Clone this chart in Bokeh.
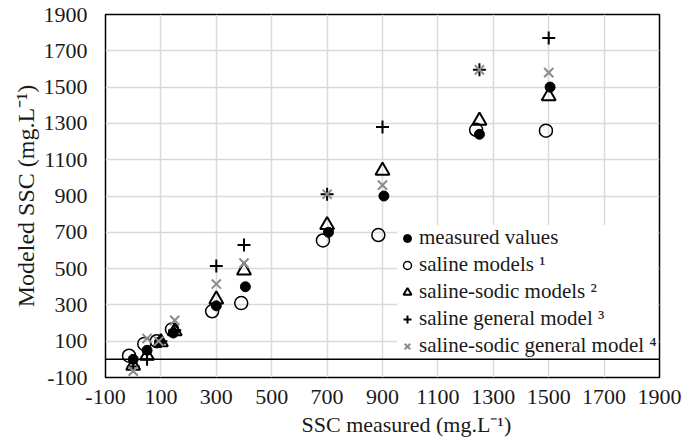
from bokeh.plotting import figure
from bokeh.models import FixedTicker, Span, Legend, LegendItem, Title, Range1d
from bokeh.embed import file_html
from bokeh.resources import INLINE

# ---- data ----
x_ticks = [-100, 100, 300, 500, 700, 900, 1100, 1300, 1500, 1700, 1900]
y_ticks = [-100, 100, 300, 500, 700, 900, 1100, 1300, 1500, 1700, 1900]

measured_x = [0, 50, 95, 145, 300, 405, 705, 905, 1250, 1505]
measured_y = [0, 50, 95, 145, 295, 400, 700, 900, 1240, 1500]

saline_x = [-15, 40, 85, 140, 285, 390, 685, 885, 1238, 1490]
saline_y = [20, 85, 100, 165, 265, 310, 655, 685, 1265, 1260]

sodic_x = [0, 50, 100, 150, 300, 400, 700, 900, 1250, 1500]
sodic_y = [-35, 20, 95, 155, 330, 490, 740, 1040, 1315, 1450]

gen_x = [0, 50, 100, 150, 300, 400, 700, 900, 1250, 1500]
gen_y = [-40, 0, 100, 160, 515, 630, 910, 1280, 1595, 1770]

sodic_gen_x = [0, 50, 92, 150, 300, 400, 700, 900, 1250, 1500]
sodic_gen_y = [-65, 115, 100, 215, 415, 530, 910, 960, 1595, 1580]

labels = ["measured values", "saline models \u00b9", "saline-sodic models \u00b2",
          "saline general model \u00b3", "saline-sodic general model \u2074"]

FONT = "Liberation Serif"
TXT = "#1a1a1a"

p = figure(width=684, height=445, output_backend="svg", toolbar_location=None,
           x_range=Range1d(-100, 1900), y_range=Range1d(-100, 1900),
           min_border_left=105, min_border_right=25, min_border_top=14, min_border_bottom=68)

p.outline_line_color = "black"
p.outline_line_width = 1.5

for ax in (p.xaxis[0], p.yaxis[0]):
    ax.axis_line_color = None
    ax.major_tick_line_color = None
    ax.minor_tick_line_color = None
    ax.major_tick_out = 0
    ax.major_tick_in = 0
    ax.major_label_text_font = FONT
    ax.major_label_text_font_size = "22px"
    ax.major_label_text_color = TXT
    ax.major_label_overrides = {-100: "-100"}

p.xaxis.ticker = FixedTicker(ticks=x_ticks)
p.yaxis.ticker = FixedTicker(ticks=y_ticks)
p.xaxis.major_label_standoff = 12
p.yaxis.major_label_standoff = 18

p.yaxis.axis_label = "Modeled SSC (mg.L\u207b\u00b9)"
p.yaxis.axis_label_text_font = FONT
p.yaxis.axis_label_text_font_size = "24px"
p.yaxis.axis_label_text_font_style = "normal"
p.yaxis.axis_label_text_color = TXT
p.yaxis.axis_label_standoff = 2

p.xgrid.ticker = FixedTicker(ticks=x_ticks)
p.ygrid.ticker = FixedTicker(ticks=y_ticks)
for g in (p.xgrid[0], p.ygrid[0]):
    g.grid_line_color = "#d9d9d9"
    g.grid_line_width = 1.5

p.add_layout(Span(location=0, dimension="width", line_color="black", line_width=1.5))

r1 = p.scatter(measured_x, measured_y, marker="circle", size=10,
               fill_color="black", line_color="black")
r2 = p.scatter(saline_x, saline_y, marker="circle", size=13,
               fill_color=None, line_color="black", line_width=1.5)
r3 = p.scatter(sodic_x, sodic_y, marker="triangle", size=14,
               fill_color=None, line_color="black", line_width=2)
r4 = p.scatter(gen_x, gen_y, marker="cross", size=13,
               line_color="black", line_width=2)
r5 = p.scatter(sodic_gen_x, sodic_gen_y, marker="x", size=13,
               line_color="#8c8c8c", line_width=2)

legend = Legend(items=[LegendItem(label=l, renderers=[r]) for l, r in
                       zip(labels, [r1, r2, r3, r4, r5])],
                location=(292, 19))
legend.label_text_font = FONT
legend.label_text_font_size = "21px"
legend.label_text_color = TXT
legend.glyph_width = 20
legend.glyph_height = 20
legend.label_height = 24
legend.label_standoff = 2
legend.spacing = 2
legend.padding = 3
legend.margin = 0
legend.border_line_color = None
legend.background_fill_color = "white"
legend.background_fill_alpha = 1
p.add_layout(legend)

xtitle = Title(text="SSC measured (mg.L\u207b\u00b9)", align="left", offset=196,
               vertical_align="top", standoff=10, text_font=FONT,
               text_font_size="22px", text_font_style="normal", text_color=TXT)
p.add_layout(xtitle, "below")

open("out.html", "w").write(file_html(p, INLINE))
